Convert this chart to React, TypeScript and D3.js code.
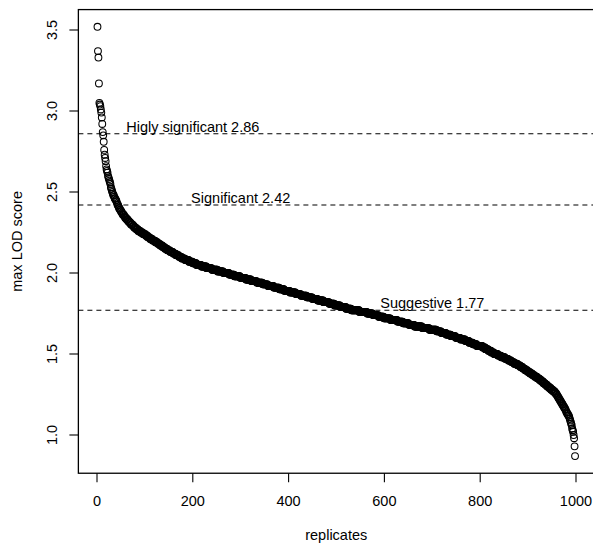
import React, { useEffect, useRef } from 'react';
import * as d3 from 'd3';

// sorted max LOD score of each permutation replicate
const replicateScores: number[] = [
  3.52, 3.37, 3.33, 3.17, 3.05, 3.04, 3.03, 3.01, 2.99, 2.96, 2.92, 2.87, 2.85, 2.81, 2.76, 2.73, 2.71, 2.69, 2.66, 2.64,
  2.63, 2.62, 2.60, 2.59, 2.58, 2.57, 2.56, 2.55, 2.53, 2.52, 2.51, 2.50, 2.49, 2.48, 2.48, 2.47, 2.46, 2.46, 2.45, 2.45,
  2.44, 2.43, 2.42, 2.42, 2.41, 2.40, 2.40, 2.39, 2.39, 2.38, 2.38, 2.37, 2.37, 2.36, 2.36, 2.36, 2.35, 2.35, 2.34, 2.34,
  2.34, 2.33, 2.33, 2.33, 2.32, 2.32, 2.32, 2.31, 2.31, 2.31, 2.30, 2.30, 2.30, 2.30, 2.29, 2.29, 2.29, 2.28, 2.28, 2.28,
  2.28, 2.27, 2.27, 2.27, 2.27, 2.26, 2.26, 2.26, 2.26, 2.26, 2.25, 2.25, 2.25, 2.25, 2.25, 2.24, 2.24, 2.24, 2.24, 2.24,
  2.24, 2.23, 2.23, 2.23, 2.23, 2.22, 2.22, 2.22, 2.22, 2.22, 2.21, 2.21, 2.21, 2.21, 2.21, 2.20, 2.20, 2.20, 2.20, 2.20,
  2.20, 2.19, 2.19, 2.19, 2.19, 2.19, 2.18, 2.18, 2.18, 2.18, 2.18, 2.17, 2.17, 2.17, 2.17, 2.17, 2.16, 2.16, 2.16, 2.16,
  2.16, 2.15, 2.15, 2.15, 2.15, 2.15, 2.14, 2.14, 2.14, 2.14,
  2.14, 2.14, 2.13, 2.13, 2.13, 2.13, 2.13, 2.13, 2.12, 2.12, 2.12, 2.12, 2.12, 2.12, 2.11, 2.11, 2.11, 2.11, 2.11, 2.11,
  2.10, 2.10, 2.10, 2.10, 2.10, 2.10, 2.09, 2.09, 2.09, 2.09,
  2.09, 2.09, 2.09, 2.08, 2.08, 2.08, 2.08, 2.08, 2.08, 2.08, 2.08, 2.07, 2.07, 2.07, 2.07, 2.07, 2.07, 2.07, 2.07, 2.06,
  2.06, 2.06, 2.06, 2.06, 2.06, 2.06, 2.06, 2.05, 2.05, 2.05, 2.05, 2.05, 2.05, 2.05, 2.05,
  2.05, 2.05, 2.04, 2.04, 2.04, 2.04, 2.04, 2.04, 2.04, 2.04, 2.04, 2.04, 2.04, 2.03, 2.03, 2.03, 2.03, 2.03, 2.03, 2.03,
  2.03, 2.03, 2.03, 2.03, 2.02, 2.02, 2.02, 2.02, 2.02, 2.02, 2.02, 2.02, 2.02, 2.02, 2.02,
  2.02, 2.01, 2.01, 2.01, 2.01, 2.01, 2.01, 2.01, 2.01, 2.01, 2.01, 2.01, 2.01, 2.00, 2.00, 2.00, 2.00, 2.00, 2.00, 2.00,
  2.00, 2.00, 2.00, 2.00, 2.00, 1.99, 1.99, 1.99, 1.99, 1.99, 1.99, 1.99, 1.99, 1.99, 1.99,
  1.99, 1.98, 1.98, 1.98, 1.98, 1.98, 1.98, 1.98, 1.98, 1.98, 1.98, 1.98, 1.98, 1.97, 1.97, 1.97, 1.97, 1.97, 1.97, 1.97,
  1.97, 1.97, 1.97, 1.97, 1.97, 1.96, 1.96, 1.96, 1.96, 1.96, 1.96, 1.96, 1.96, 1.96, 1.96,
  1.96, 1.95, 1.95, 1.95, 1.95, 1.95, 1.95, 1.95, 1.95, 1.95, 1.95, 1.95, 1.95, 1.94, 1.94, 1.94, 1.94, 1.94, 1.94, 1.94,
  1.94, 1.94, 1.94, 1.94, 1.94, 1.93, 1.93, 1.93, 1.93, 1.93, 1.93, 1.93, 1.93, 1.93, 1.93,
  1.93, 1.92, 1.92, 1.92, 1.92, 1.92, 1.92, 1.92, 1.92, 1.92, 1.92, 1.92, 1.92, 1.91, 1.91, 1.91, 1.91, 1.91, 1.91, 1.91,
  1.91, 1.91, 1.91, 1.91, 1.91, 1.90, 1.90, 1.90, 1.90, 1.90, 1.90, 1.90, 1.90, 1.90, 1.90,
  1.89, 1.89, 1.89, 1.89, 1.89, 1.89, 1.89, 1.89, 1.89, 1.89, 1.89, 1.89, 1.88, 1.88, 1.88, 1.88, 1.88, 1.88, 1.88, 1.88,
  1.88, 1.88, 1.88, 1.88, 1.87, 1.87, 1.87, 1.87, 1.87, 1.87, 1.87, 1.87, 1.87, 1.87, 1.87,
  1.86, 1.86, 1.86, 1.86, 1.86, 1.86, 1.86, 1.86, 1.86, 1.86, 1.86, 1.86, 1.85, 1.85, 1.85, 1.85, 1.85, 1.85, 1.85, 1.85,
  1.85, 1.85, 1.85, 1.85, 1.84, 1.84, 1.84, 1.84, 1.84, 1.84, 1.84, 1.84, 1.84, 1.84, 1.84,
  1.83, 1.83, 1.83, 1.83, 1.83, 1.83, 1.83, 1.83, 1.83, 1.83, 1.83, 1.83, 1.82, 1.82, 1.82, 1.82, 1.82, 1.82, 1.82, 1.82,
  1.82, 1.82, 1.82, 1.82, 1.81, 1.81, 1.81, 1.81, 1.81, 1.81, 1.81, 1.81, 1.81, 1.81, 1.81,
  1.80, 1.80, 1.80, 1.80, 1.80, 1.80, 1.80, 1.80, 1.80, 1.80, 1.80, 1.80, 1.79, 1.79, 1.79, 1.79, 1.79, 1.79, 1.79, 1.79,
  1.79, 1.79, 1.79, 1.79, 1.78, 1.78, 1.78, 1.78, 1.78, 1.78, 1.78, 1.78, 1.78, 1.78, 1.78,
  1.77, 1.77, 1.77, 1.77, 1.77, 1.77, 1.77, 1.77, 1.77, 1.77, 1.77, 1.77, 1.77, 1.77, 1.77, 1.77, 1.77, 1.76, 1.76, 1.76,
  1.76, 1.76, 1.76, 1.76, 1.76, 1.76, 1.76, 1.76, 1.76, 1.76, 1.76, 1.76, 1.76,
  1.75, 1.75, 1.75, 1.75, 1.75, 1.75, 1.75, 1.75, 1.75, 1.75, 1.75, 1.75, 1.74, 1.74, 1.74, 1.74, 1.74, 1.74, 1.74, 1.74,
  1.74, 1.74, 1.74, 1.74, 1.73, 1.73, 1.73, 1.73, 1.73, 1.73, 1.73, 1.73, 1.73, 1.73, 1.73,
  1.72, 1.72, 1.72, 1.72, 1.72, 1.72, 1.72, 1.72, 1.72, 1.72, 1.72, 1.72, 1.72, 1.72, 1.71, 1.71, 1.71, 1.71, 1.71, 1.71,
  1.71, 1.71, 1.71, 1.71, 1.71, 1.71, 1.71, 1.71, 1.70, 1.70, 1.70, 1.70, 1.70, 1.70, 1.70, 1.70, 1.70, 1.70, 1.70, 1.70,
  1.69, 1.69, 1.69, 1.69, 1.69, 1.69, 1.69, 1.69, 1.69, 1.69, 1.69, 1.69, 1.68, 1.68, 1.68, 1.68, 1.68, 1.68, 1.68, 1.68,
  1.68, 1.68, 1.68, 1.68, 1.67, 1.67, 1.67, 1.67, 1.67, 1.67, 1.67, 1.67, 1.67, 1.67, 1.67,
  1.67, 1.67, 1.67, 1.67, 1.67, 1.66, 1.66, 1.66, 1.66, 1.66, 1.66, 1.66, 1.66, 1.66, 1.66, 1.66, 1.66, 1.66, 1.66, 1.66,
  1.65, 1.65, 1.65, 1.65, 1.65, 1.65, 1.65, 1.65, 1.65, 1.65, 1.65, 1.65, 1.65, 1.65, 1.65,
  1.64, 1.64, 1.64, 1.64, 1.64, 1.64, 1.64, 1.64, 1.64, 1.64, 1.63, 1.63, 1.63, 1.63, 1.63, 1.63, 1.63, 1.63, 1.63, 1.63,
  1.62, 1.62, 1.62, 1.62, 1.62, 1.62, 1.62, 1.62, 1.62, 1.62,
  1.61, 1.61, 1.61, 1.61, 1.61, 1.61, 1.61, 1.61, 1.61, 1.61, 1.60, 1.60, 1.60, 1.60, 1.60, 1.60, 1.60, 1.60, 1.60, 1.60,
  1.59, 1.59, 1.59, 1.59, 1.59, 1.59, 1.59, 1.59, 1.59, 1.59,
  1.58, 1.58, 1.58, 1.58, 1.58, 1.58, 1.58, 1.58, 1.57, 1.57, 1.57, 1.57, 1.57, 1.57, 1.57, 1.57, 1.56, 1.56, 1.56, 1.56,
  1.56, 1.56, 1.56, 1.56, 1.55, 1.55, 1.55, 1.55, 1.55, 1.55,
  1.55, 1.55, 1.55, 1.55, 1.55, 1.55, 1.54, 1.54, 1.54, 1.54, 1.54, 1.54, 1.53, 1.53, 1.53, 1.53, 1.53, 1.53, 1.52, 1.52,
  1.52, 1.52, 1.52, 1.52, 1.51, 1.51, 1.51, 1.51, 1.51, 1.51,
  1.50, 1.50, 1.50, 1.50, 1.50, 1.50, 1.50, 1.50, 1.49, 1.49, 1.49, 1.49, 1.49, 1.49, 1.49, 1.48, 1.48, 1.48, 1.48, 1.48,
  1.48, 1.48, 1.48, 1.47, 1.47, 1.47, 1.47, 1.47, 1.47, 1.47,
  1.46, 1.46, 1.46, 1.46, 1.46, 1.46, 1.45, 1.45, 1.45, 1.45, 1.45, 1.45, 1.44, 1.44, 1.44, 1.44, 1.44, 1.44, 1.44, 1.43,
  1.43, 1.43, 1.43, 1.43, 1.43,
  1.42, 1.42, 1.42, 1.42, 1.42, 1.41, 1.41, 1.41, 1.41, 1.41, 1.40, 1.40, 1.40, 1.40, 1.40, 1.39, 1.39, 1.39, 1.39, 1.39,
  1.38, 1.38, 1.38, 1.38, 1.38, 1.37, 1.37, 1.37, 1.37, 1.37, 1.36, 1.36, 1.36, 1.36, 1.36, 1.35, 1.35, 1.35, 1.35, 1.35,
  1.34, 1.34, 1.34, 1.34, 1.33, 1.33, 1.33, 1.33, 1.32, 1.32, 1.32, 1.32, 1.31, 1.31, 1.31, 1.31, 1.30, 1.30, 1.30, 1.30,
  1.29, 1.29, 1.29, 1.29, 1.28, 1.28, 1.28, 1.28, 1.27, 1.27, 1.27, 1.27, 1.26, 1.26, 1.26,
  1.25, 1.25, 1.24, 1.24, 1.23, 1.23, 1.22, 1.22, 1.21, 1.21, 1.20, 1.20, 1.19, 1.19, 1.18, 1.18, 1.17, 1.17, 1.16, 1.16,
  1.15, 1.14, 1.14, 1.13, 1.13, 1.12, 1.12, 1.11,
  1.10, 1.09, 1.08, 1.07, 1.06, 1.04, 1.03, 1.02, 1.00, 0.98, 0.93, 0.87,
];

const xTicks = [0, 200, 400, 600, 800, 1000];
const yTicks = [1.0, 1.5, 2.0, 2.5, 3.0, 3.5];

const thresholdValues = [2.86, 2.42, 1.77];
const thresholdLabels = ['Higly significant 2.86', 'Significant 2.42', 'Suggestive 1.77'];
const thresholdLabelAt = [200, 300, 700];

const font = '"Liberation Sans", Arial, sans-serif';

export default function App() {
  const ref = useRef<SVGSVGElement>(null);

  useEffect(() => {
    const svg = d3.select(ref.current);
    svg.selectAll('*').remove();

    const x = d3.scaleLinear().domain([0, 1000]).range([97, 576]);
    const y = d3.scaleLinear().domain([1, 3.5]).range([435, 30]);

    // R style 4% padding around the data range
    const n = replicateScores.length;
    const xPad = (n - 1) * 0.04;
    const yMin = d3.min(replicateScores) as number;
    const yMax = d3.max(replicateScores) as number;
    const yPad = (yMax - yMin) * 0.04;
    const left = x(1 - xPad);
    const right = x(n + xPad);
    const top = y(yMax + yPad);
    const bottom = y(yMin - yPad);

    const g = svg.append('g').attr('font-family', font).attr('font-size', 14.5).attr('fill', '#000');

    // points
    g.append('g')
      .selectAll('circle')
      .data(replicateScores)
      .enter()
      .append('circle')
      .attr('cx', (d, i) => x(i + 1))
      .attr('cy', d => y(d))
      .attr('r', 3.4)
      .attr('fill', 'none')
      .attr('stroke', '#000')
      .attr('stroke-width', 1.05);

    // threshold lines
    g.append('g')
      .selectAll('line')
      .data(thresholdValues)
      .enter()
      .append('line')
      .attr('x1', left)
      .attr('x2', right)
      .attr('y1', d => y(d))
      .attr('y2', d => y(d))
      .attr('stroke', '#000')
      .attr('stroke-width', 1.1)
      .attr('stroke-dasharray', '5,4');

    g.append('g')
      .selectAll('text')
      .data(thresholdValues)
      .enter()
      .append('text')
      .attr('x', (d, i) => x(thresholdLabelAt[i]))
      .attr('y', d => y(d) - 2)
      .attr('text-anchor', 'middle')
      .text((d, i) => thresholdLabels[i]);

    // box
    g.append('rect')
      .attr('x', left)
      .attr('y', top)
      .attr('width', right - left)
      .attr('height', bottom - top)
      .attr('fill', 'none')
      .attr('stroke', '#000')
      .attr('stroke-width', 1.3);

    // x axis
    const xg = g.append('g');
    xg.selectAll('line')
      .data(xTicks)
      .enter()
      .append('line')
      .attr('x1', d => x(d))
      .attr('x2', d => x(d))
      .attr('y1', bottom)
      .attr('y2', bottom + 9)
      .attr('stroke', '#000')
      .attr('stroke-width', 1.1);
    xg.selectAll('text')
      .data(xTicks)
      .enter()
      .append('text')
      .attr('x', d => x(d))
      .attr('y', 506)
      .attr('text-anchor', 'middle')
      .text(d => d);

    // y axis
    const yg = g.append('g');
    yg.selectAll('line')
      .data(yTicks)
      .enter()
      .append('line')
      .attr('x1', left - 9)
      .attr('x2', left)
      .attr('y1', d => y(d))
      .attr('y2', d => y(d))
      .attr('stroke', '#000')
      .attr('stroke-width', 1.1);
    yg.selectAll('text')
      .data(yTicks)
      .enter()
      .append('text')
      .attr('transform', d => `translate(57, ${y(d)}) rotate(-90)`)
      .attr('text-anchor', 'middle')
      .text(d => d3.format('.1f')(d));

    // axis titles
    g.append('text')
      .attr('x', (left + right) / 2)
      .attr('y', 540)
      .attr('text-anchor', 'middle')
      .text('replicates');

    g.append('text')
      .attr('transform', `translate(22, ${(top + bottom) / 2}) rotate(-90)`)
      .attr('text-anchor', 'middle')
      .text('max LOD score');
  }, []);

  return (
    <svg
      ref={ref}
      width={593}
      height={546}
      style={{ position: 'absolute', left: 0, top: 0, background: '#fff' }}
    />
  );
}
